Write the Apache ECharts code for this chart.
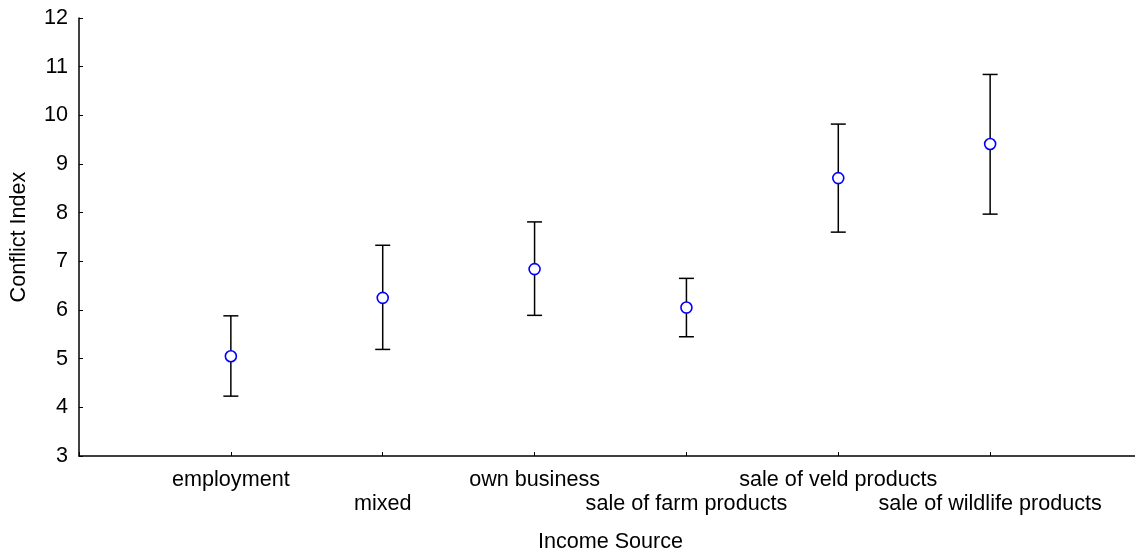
<!DOCTYPE html>
<html>
<head>
<meta charset="utf-8">
<script src="https://cdn.jsdelivr.net/npm/echarts@6/dist/echarts.min.js"></script>
<style>
  html, body { margin: 0; padding: 0; background: #fff; }
  #chart { width: 1135px; height: 553px; }
</style>
</head>
<body>
<div id="chart"></div>
<script>
// Income source categories (positions 1..6 on the x axis)
const categories = [
  'employment',
  'mixed',
  'own business',
  'sale of farm products',
  'sale of veld products',
  'sale of wildlife products'
];
// Mean conflict index and the lower / upper error-bar limits
const means = [5.05, 6.25, 6.84, 6.05, 8.71, 9.41];
const lowers = [4.23, 5.19, 5.89, 5.45, 7.60, 7.97];
const uppers = [5.88, 7.33, 7.81, 6.65, 9.82, 10.84];
const yTicks = [3, 4, 5, 6, 7, 8, 9, 10, 11, 12];

const FONT = 'Liberation Sans, Arial, sans-serif';
const FS = 21.6;

const chart = echarts.init(document.getElementById('chart'), null, { renderer: 'canvas' });

const pointData = means.map((m, i) => [i + 1, m]);
const barData = means.map((m, i) => [i + 1, lowers[i], uppers[i]]);

chart.setOption({
  animation: false,
  backgroundColor: '#ffffff',
  grid: {
    left: 79, right: -7, top: 18, bottom: 97,
    containLabel: false,
    outerBoundsMode: 'none'
  },
  xAxis: {
    type: 'value',
    min: 0,
    max: 7,
    interval: 1,
    name: 'Income Source',
    nameLocation: 'middle',
    nameGap: 75,
    nameTextStyle: { color: '#000', fontSize: FS, fontFamily: FONT },
    axisLine: { show: true, lineStyle: { color: '#000', width: 1.5 } },
    axisTick: { show: true, inside: true, length: 4, lineStyle: { color: '#000', width: 1 } },
    splitLine: { show: false },
    axisLabel: {
      color: '#000',
      fontSize: FS,
      fontFamily: FONT,
      lineHeight: 24,
      margin: 12,
      showMinLabel: true,
      showMaxLabel: true,
      formatter: function (v) {
        const idx = Math.round(v) - 1;
        if (idx < 0 || idx >= categories.length) return '';
        return idx % 2 === 0 ? categories[idx] : '\n' + categories[idx];
      }
    }
  },
  yAxis: {
    type: 'value',
    min: yTicks[0],
    max: yTicks[yTicks.length - 1],
    interval: 1,
    name: 'Conflict Index',
    nameLocation: 'middle',
    nameGap: 49,
    nameRotate: 90,
    nameTextStyle: { color: '#000', fontSize: FS, fontFamily: FONT },
    axisLine: { show: true, lineStyle: { color: '#000', width: 1.5 } },
    axisTick: { show: true, inside: true, length: 4, lineStyle: { color: '#000', width: 1 } },
    splitLine: { show: false },
    axisLabel: { color: '#000', fontSize: FS, fontFamily: FONT, margin: 11 }
  },
  series: [
    {
      type: 'custom',
      data: barData,
      z: 2,
      renderItem: function (params, api) {
        const x = api.value(0);
        const lo = api.coord([x, api.value(1)]);
        const hi = api.coord([x, api.value(2)]);
        const half = 7.5;
        const style = { stroke: '#000', lineWidth: 1.5, fill: null };
        return {
          type: 'group',
          children: [
            { type: 'line', shape: { x1: lo[0], y1: lo[1], x2: hi[0], y2: hi[1] }, style: style },
            { type: 'line', shape: { x1: hi[0] - half, y1: hi[1], x2: hi[0] + half, y2: hi[1] }, style: style },
            { type: 'line', shape: { x1: lo[0] - half, y1: lo[1], x2: lo[0] + half, y2: lo[1] }, style: style }
          ]
        };
      }
    },
    {
      type: 'scatter',
      data: pointData,
      z: 5,
      symbol: 'circle',
      symbolSize: 11,
      itemStyle: { color: '#ffffff', borderColor: '#0000ff', borderWidth: 1.6, opacity: 1 }
    }
  ]
});
</script>
</body>
</html>
